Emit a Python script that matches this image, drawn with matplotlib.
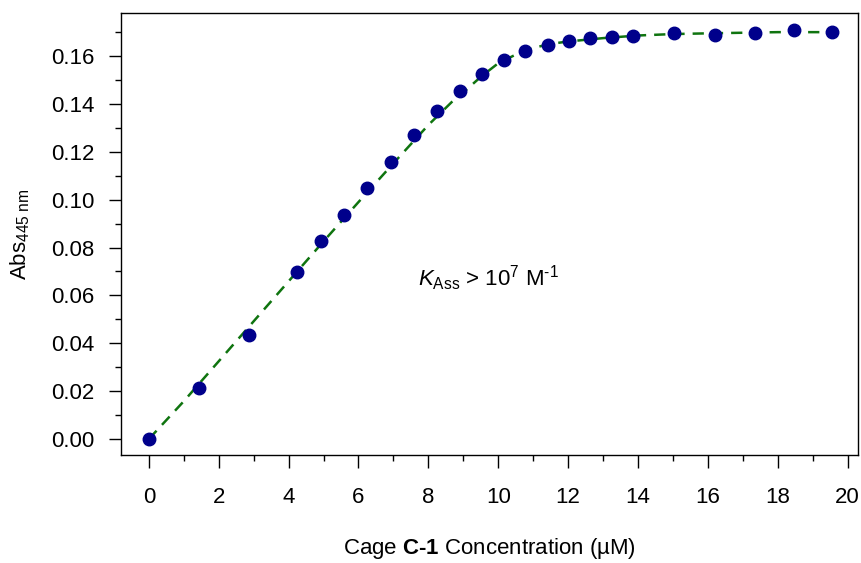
import matplotlib
matplotlib.use("Agg")
import matplotlib.pyplot as plt
from matplotlib.ticker import MultipleLocator, FormatStrFormatter

plt.rcParams['font.family'] = ['Liberation Sans', 'DejaVu Sans']
plt.rcParams['mathtext.fontset'] = 'custom'
plt.rcParams['mathtext.rm'] = 'Liberation Sans'
plt.rcParams['mathtext.it'] = 'Liberation Sans:italic'
plt.rcParams['mathtext.bf'] = 'Liberation Sans:bold'

# measured data
conc = [0.0, 1.42, 2.87, 4.24, 4.94, 5.59, 6.25, 6.94, 7.59, 8.25, 8.92, 9.54,
        10.17, 10.78, 11.42, 12.03, 12.64, 13.27, 13.87, 15.02, 16.22, 17.34,
        18.47, 19.56]
absorb = [0.0, 0.0214, 0.0433, 0.0699, 0.0828, 0.0935, 0.1049, 0.1158, 0.1272,
          0.1370, 0.1454, 0.1524, 0.1582, 0.1620, 0.1648, 0.1663, 0.1677, 0.1680,
          0.1686, 0.1695, 0.1687, 0.1697, 0.1711, 0.1700]

# fitted curve
fit_x = [0.0, 1.0, 2.0, 3.0, 4.0, 5.0, 6.0, 7.0, 8.0, 8.67, 9.0, 9.5, 10.0, 10.5,
         11.0, 11.5, 12.0, 13.0, 14.0, 15.0, 16.0, 18.0, 19.6]
fit_y = [0.0, 0.0158, 0.0325, 0.0492, 0.0659, 0.0826, 0.0990, 0.1152, 0.1312,
         0.1408, 0.1448, 0.1513, 0.1570, 0.1606, 0.1634, 0.1651, 0.1661, 0.1675,
         0.1686, 0.1692, 0.1695, 0.1700, 0.1700]

x_ticks = [0, 2, 4, 6, 8, 10, 12, 14, 16, 18, 20]
y_ticks = [0.00, 0.02, 0.04, 0.06, 0.08, 0.10, 0.12, 0.14, 0.16]

fig = plt.figure(figsize=(8.61, 5.63), dpi=100)
ax = fig.add_axes([0.1405, 0.1918, 0.8560, 0.7851])

ax.plot(fit_x, fit_y, color='#0f740f', lw=1.8, dashes=(4.5, 3.2), zorder=2)
ax.plot(conc, absorb, 'o', color='#00008b', ms=9, mec='#00008b', zorder=3)

ax.set_xlim(-0.8, 20.3)
ax.set_ylim(-0.0067, 0.178)
ax.set_xticks(x_ticks)
ax.set_yticks(y_ticks)
ax.xaxis.set_minor_locator(MultipleLocator(1))
ax.yaxis.set_minor_locator(MultipleLocator(0.01))
ax.yaxis.set_major_formatter(FormatStrFormatter('%.2f'))

ax.tick_params(which='major', direction='out', length=9, width=1.0,
               labelsize=16, pad=10)
ax.tick_params(which='minor', direction='out', length=4, width=1.0)
ax.tick_params(axis='x', which='major', pad=14)
for s in ax.spines.values():
    s.set_linewidth(1.0)

ax.set_xlabel('Cage $\\mathbf{C\u20101}$ Concentration (\u00b5M)', fontsize=16, labelpad=20)
ax.set_ylabel('Abs$_{445\\ \\mathrm{nm}}$', fontsize=16, labelpad=14)

ax.text(0.403, 0.40, '$K_{\\mathrm{Ass}}$ > 10$^{7}$ M$^{\u20101}$',
        transform=ax.transAxes, fontsize=16, ha='left', va='center')

fig.savefig('out.png', dpi=100)
